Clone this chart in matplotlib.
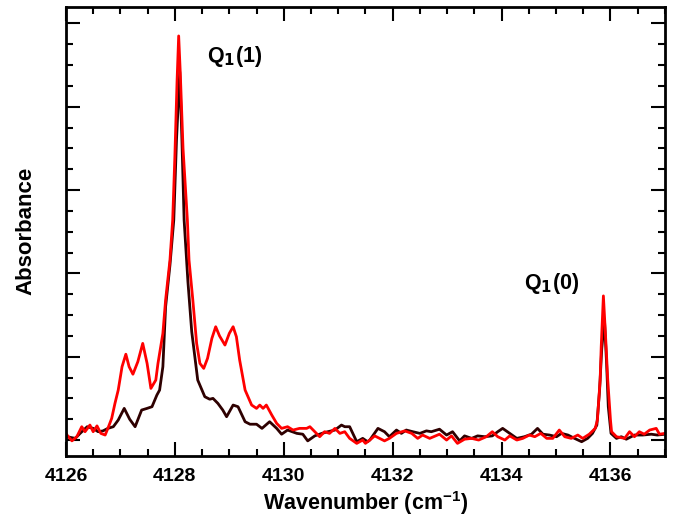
import matplotlib
matplotlib.use("Agg")
import matplotlib.pyplot as plt
from matplotlib.ticker import MultipleLocator, NullFormatter

# spectrum (wavenumber in cm-1, absorbance in arbitrary units)
wn_red = [
    4126.00, 4126.02, 4126.11, 4126.20, 4126.29, 4126.35, 4126.44, 4126.50, 4126.57, 4126.64,
    4126.72, 4126.77, 4126.84, 4126.90, 4126.96, 4127.03, 4127.10, 4127.16, 4127.23, 4127.32,
    4127.41, 4127.49, 4127.56, 4127.65, 4127.69, 4127.78, 4127.83, 4127.91, 4127.96, 4128.00,
    4128.04, 4128.07, 4128.10, 4128.15, 4128.23, 4128.26, 4128.33, 4128.40, 4128.46, 4128.53,
    4128.60, 4128.68, 4128.75, 4128.82, 4128.92, 4129.00, 4129.07, 4129.13, 4129.19, 4129.29,
    4129.41, 4129.50, 4129.56, 4129.62, 4129.68, 4129.78, 4129.87, 4129.96, 4130.07, 4130.17,
    4130.29, 4130.42, 4130.48, 4130.57, 4130.66, 4130.75, 4130.84, 4130.94, 4131.03, 4131.12,
    4131.21, 4131.34, 4131.45, 4131.50, 4131.58, 4131.67, 4131.76, 4131.85, 4131.94, 4132.07,
    4132.22, 4132.35, 4132.46, 4132.55, 4132.68, 4132.86, 4132.99, 4133.08, 4133.19, 4133.32,
    4133.45, 4133.58, 4133.72, 4133.83, 4133.93, 4134.06, 4134.15, 4134.28, 4134.39, 4134.51,
    4134.61, 4134.72, 4134.83, 4134.94, 4135.06, 4135.16, 4135.28, 4135.40, 4135.49, 4135.61,
    4135.72, 4135.76, 4135.81, 4135.83, 4135.87, 4135.92, 4135.95, 4136.00, 4136.02, 4136.11,
    4136.26, 4136.35, 4136.44, 4136.53, 4136.62, 4136.72, 4136.84, 4136.90, 4137.00,
]
abs_red = [
    0.08, 0.06, -0.01, 0.04, 0.16, 0.10, 0.18, 0.10, 0.17, 0.08,
    0.06, 0.14, 0.26, 0.44, 0.60, 0.88, 1.03, 0.88, 0.79, 0.94,
    1.16, 0.92, 0.62, 0.72, 0.92, 1.28, 1.68, 2.16, 2.64, 3.40,
    4.30, 4.85, 4.40, 3.50, 2.64, 2.16, 1.68, 1.16, 0.92, 0.86,
    0.98, 1.22, 1.36, 1.25, 1.14, 1.28, 1.36, 1.24, 0.96, 0.60,
    0.42, 0.38, 0.42, 0.38, 0.42, 0.30, 0.20, 0.14, 0.16, 0.12,
    0.14, 0.14, 0.16, 0.10, 0.04, 0.10, 0.08, 0.14, 0.08, 0.10,
    0.02, -0.04, 0.00, -0.04, 0.00, 0.05, 0.02, -0.01, 0.02, 0.08,
    0.11, 0.08, 0.02, 0.06, 0.02, 0.07, 0.00, 0.05, -0.04, 0.01,
    0.02, 0.00, 0.04, 0.10, 0.04, 0.00, 0.05, 0.00, 0.02, 0.06,
    0.04, 0.08, 0.02, 0.02, 0.12, 0.04, 0.02, 0.06, 0.02, 0.07,
    0.14, 0.24, 0.72, 1.12, 1.73, 1.12, 0.72, 0.24, 0.10, 0.04,
    0.02, 0.10, 0.04, 0.10, 0.07, 0.12, 0.14, 0.07, 0.08,
]

wn_dark = [
    4126.00, 4126.02, 4126.17, 4126.26, 4126.39, 4126.50, 4126.59, 4126.68, 4126.77, 4126.87,
    4126.96, 4127.07, 4127.17, 4127.27, 4127.39, 4127.49, 4127.58, 4127.67, 4127.72, 4127.78,
    4127.83, 4127.91, 4127.98, 4128.03, 4128.09, 4128.13, 4128.17, 4128.24, 4128.31, 4128.42,
    4128.55, 4128.64, 4128.70, 4128.79, 4128.88, 4128.95, 4129.07, 4129.16, 4129.29, 4129.38,
    4129.50, 4129.60, 4129.74, 4129.87, 4129.96, 4130.07, 4130.24, 4130.35, 4130.44, 4130.57,
    4130.70, 4130.81, 4130.94, 4131.06, 4131.12, 4131.21, 4131.34, 4131.45, 4131.54, 4131.58,
    4131.73, 4131.85, 4131.94, 4132.07, 4132.16, 4132.25, 4132.37, 4132.50, 4132.62, 4132.71,
    4132.86, 4132.99, 4133.10, 4133.23, 4133.32, 4133.45, 4133.56, 4133.69, 4133.83, 4133.93,
    4134.02, 4134.15, 4134.28, 4134.42, 4134.55, 4134.66, 4134.76, 4134.88, 4135.01, 4135.10,
    4135.22, 4135.34, 4135.47, 4135.58, 4135.67, 4135.75, 4135.80, 4135.84, 4135.89, 4135.93,
    4135.96, 4136.01, 4136.11, 4136.20, 4136.29, 4136.44, 4136.59, 4136.75, 4136.86, 4137.00,
]
abs_dark = [
    0.06, 0.04, 0.02, 0.08, 0.16, 0.14, 0.10, 0.11, 0.14, 0.16,
    0.24, 0.38, 0.25, 0.16, 0.36, 0.38, 0.40, 0.54, 0.60, 0.88,
    1.60, 2.10, 2.64, 3.60, 4.42, 3.60, 2.64, 1.90, 1.30, 0.72,
    0.52, 0.49, 0.50, 0.44, 0.36, 0.28, 0.42, 0.40, 0.22, 0.19,
    0.19, 0.14, 0.22, 0.14, 0.07, 0.12, 0.08, 0.07, -0.01, 0.05,
    0.08, 0.10, 0.12, 0.18, 0.16, 0.16, -0.02, 0.02, -0.02, 0.00,
    0.14, 0.10, 0.04, 0.12, 0.08, 0.12, 0.10, 0.08, 0.11, 0.10,
    0.13, 0.06, 0.10, -0.01, 0.05, 0.02, 0.05, 0.04, 0.05, 0.10,
    0.14, 0.08, 0.02, 0.04, 0.07, 0.14, 0.07, 0.06, 0.04, 0.08,
    0.06, 0.02, -0.02, 0.02, 0.08, 0.18, 0.60, 1.10, 1.44, 0.90,
    0.40, 0.08, 0.02, 0.04, 0.01, 0.06, 0.06, 0.07, 0.06, 0.07,
]

peak_labels = ["Q$_\\mathbf{1}$(1)", "Q$_\\mathbf{1}$(0)"]
peak_label_x = [4128.59, 4134.42]
peak_label_y = [4.6, 1.88]

plt.rcParams["font.family"] = ["Liberation Sans", "DejaVu Sans"]
plt.rcParams["font.weight"] = "bold"
plt.rcParams["mathtext.default"] = "bf"

fig = plt.figure(figsize=(6.73, 5.21), dpi=100)
ax = fig.add_axes([0.098, 0.125, 0.890, 0.862])

ax.plot(wn_dark, abs_dark, color="#2e0000", lw=2, solid_joinstyle="round")
ax.plot(wn_red, abs_red, color="#ff0000", lw=2, solid_joinstyle="round")

for txt, tx, ty in zip(peak_labels, peak_label_x, peak_label_y):
    ax.text(tx, ty, txt, fontsize=15.5, fontweight="bold", ha="left", va="center")

ax.set_xlim(4126, 4137)
ax.set_ylim(-0.19, 5.2)

ax.xaxis.set_major_locator(MultipleLocator(2))
ax.xaxis.set_minor_locator(MultipleLocator(0.5))
ax.yaxis.set_major_locator(MultipleLocator(1))
ax.yaxis.set_minor_locator(MultipleLocator(0.25))
ax.yaxis.set_major_formatter(NullFormatter())

ax.tick_params(which="both", direction="in", top=True, right=True, width=1.5)
ax.tick_params(which="major", length=10, labelsize=14, pad=9)
ax.tick_params(which="minor", length=5)
for lab in ax.get_xticklabels():
    lab.set_fontweight("bold")
for sp in ax.spines.values():
    sp.set_linewidth(2)

ax.set_xlabel("Wavenumber (cm$^{\\mathregular{-1}}$)", fontsize=15.5, fontweight="bold", labelpad=3)
ax.set_ylabel("Absorbance", fontsize=16, fontweight="bold", labelpad=12)

fig.savefig("out.png", dpi=100)
